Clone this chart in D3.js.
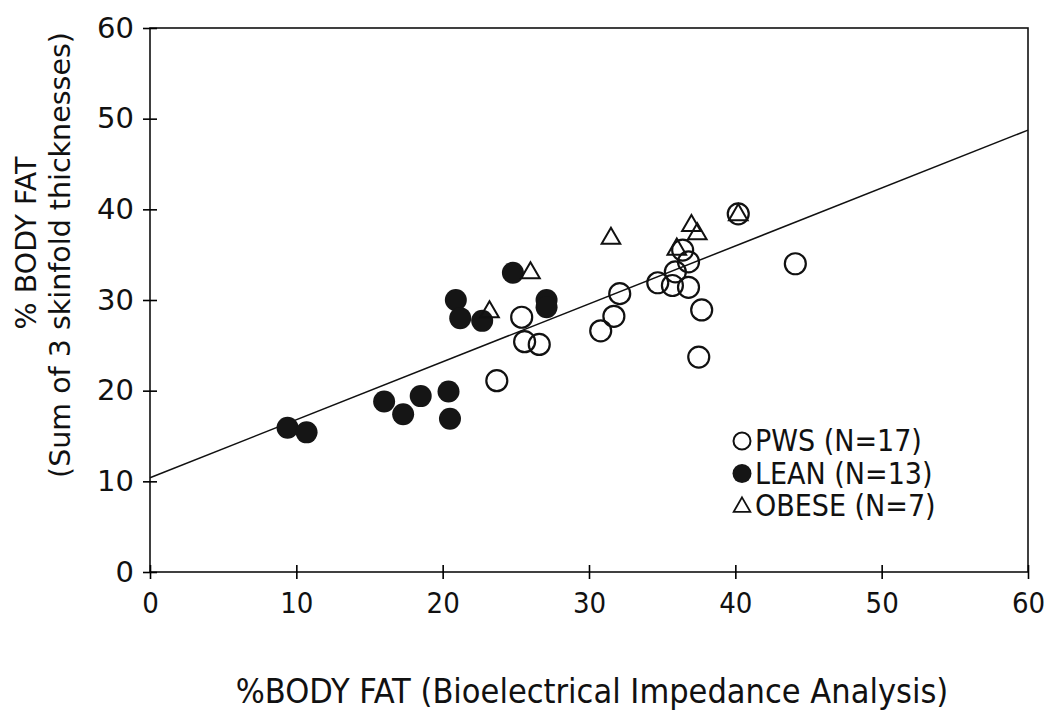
<!DOCTYPE html>
<html lang="en">
<head>
    <meta charset="UTF-8">
    <title>Body fat: skinfold vs BIA</title>
    <style type="text/css">
        body { margin: 0; background: white; }
        .tick text { fill: #111; }
    </style>
</head>
<body>

<svg width="1050" height="720"></svg>

<script src="https://d3js.org/d3.v7.min.js"></script>

<script>
    // %BODY FAT (BIA) vs %BODY FAT (skinfolds)
    var pwsX = [23.7, 25.4, 25.6, 26.6, 30.8, 31.7, 32.1, 34.7, 35.7, 35.9, 36.4, 36.8, 36.8, 37.7, 37.5, 40.2, 44.1];
    var pwsY = [21.1, 28.1, 25.4, 25.1, 26.6, 28.2, 30.7, 31.9, 31.6, 33.1, 35.5, 34.2, 31.4, 28.9, 23.7, 39.5, 34.0];

    var leanX = [9.4, 10.7, 16.0, 17.3, 18.5, 20.4, 20.5, 20.9, 21.2, 22.7, 24.8, 27.1, 27.1];
    var leanY = [15.9, 15.4, 18.8, 17.4, 19.4, 19.9, 16.9, 30.0, 28.0, 27.7, 33.0, 30.0, 29.2];

    var obeseX = [23.2, 26.0, 31.5, 36.0, 37.0, 37.4, 40.2];
    var obeseY = [28.8, 33.1, 36.9, 35.7, 38.3, 37.4, 39.5];

    var xTicks = [0, 10, 20, 30, 40, 50, 60];
    var yTicks = [0, 10, 20, 30, 40, 50, 60];

    // fitted line, intercept and slope
    var fitLine = [10.4, 0.639];

    var legendLabels = ["PWS (N=17)", "LEAN (N=13)", "OBESE (N=7)"];

    var narrow = "'Liberation Sans Narrow', 'DejaVu Sans Condensed', sans-serif";
    var wide = "'DejaVu Sans', Verdana, sans-serif";

    var svg = d3.select("svg"),
            margin = {top: 28, right: 22, bottom: 148, left: 150},
            width = svg.attr("width") - margin.left - margin.right,
            height = svg.attr("height") - margin.top - margin.bottom,
            g = svg.append("g").attr("transform", "translate(" + margin.left + "," + margin.top + ")");

    var x = d3.scaleLinear().domain([0, 60]).range([0, width]);
    var y = d3.scaleLinear().domain([0, 60]).range([height, 0]);

    // frame
    g.append("rect")
            .attr("x", 0).attr("y", 0)
            .attr("width", width).attr("height", height)
            .style("fill", "none")
            .style("stroke", "#111")
            .style("stroke-width", 1.6);

    // left axis, ticks cross the line
    var yAxis = g.append("g")
            .call(d3.axisLeft(y).tickValues(yTicks).tickSize(7).tickPadding(14));
    yAxis.select(".domain").remove();
    yAxis.selectAll(".tick line").attr("x2", 7).attr("x1", -7).style("stroke-width", 1.6);
    yAxis.selectAll(".tick text")
            .style("font-family", wide)
            .style("font-size", "29px")
            .attr("x", -16);

    var xAxis = g.append("g")
            .attr("transform", "translate(0," + height + ")")
            .call(d3.axisBottom(x).tickValues(xTicks).tickSize(7).tickPadding(14));
    xAxis.select(".domain").remove();
    xAxis.selectAll(".tick line").attr("y1", -7).attr("y2", 7).style("stroke-width", 1.6);
    xAxis.selectAll(".tick text")
            .style("font-family", narrow)
            .style("font-size", "29px")
            .attr("y", 20);

    // regression line
    g.append("line")
            .attr("x1", x(0)).attr("y1", y(fitLine[0]))
            .attr("x2", x(60)).attr("y2", y(fitLine[0] + fitLine[1] * 60))
            .style("stroke", "#111")
            .style("stroke-width", 1.5);

    var r = 10.5;
    var tri = d3.symbol().type(d3.symbolTriangle).size(150);

    g.selectAll(".pws")
            .data(d3.zip(pwsX, pwsY))
            .enter().append("circle")
            .attr("class", "pws")
            .attr("cx", function (d) { return x(d[0]); })
            .attr("cy", function (d) { return y(d[1]); })
            .attr("r", r)
            .style("fill", "none")
            .style("stroke", "#111")
            .style("stroke-width", 2.2);

    g.selectAll(".lean")
            .data(d3.zip(leanX, leanY))
            .enter().append("circle")
            .attr("class", "lean")
            .attr("cx", function (d) { return x(d[0]); })
            .attr("cy", function (d) { return y(d[1]); })
            .attr("r", r + 0.5)
            .style("fill", "#151515");

    g.selectAll(".obese")
            .data(d3.zip(obeseX, obeseY))
            .enter().append("path")
            .attr("class", "obese")
            .attr("d", tri)
            .attr("transform", function (d) {
                return "translate(" + x(d[0]) + "," + (y(d[1]) + 1) + ")";
            })
            .style("fill", "none")
            .style("stroke", "#111")
            .style("stroke-width", 2);

    // legend
    var legend = g.append("g")
            .attr("transform", "translate(592,413)");

    legend.selectAll("g")
            .data(legendLabels)
            .enter().append("g")
            .attr("transform", function (d, i) { return "translate(0," + i * 32.5 + ")"; })
            .each(function (d, i) {
                var row = d3.select(this);
                if (i === 0) {
                    row.append("circle").attr("cx", 0).attr("cy", 0).attr("r", 8.5)
                            .style("fill", "none").style("stroke", "#111").style("stroke-width", 2);
                } else if (i === 1) {
                    row.append("circle").attr("cx", 0).attr("cy", 0).attr("r", 9.5).style("fill", "#151515");
                } else {
                    row.append("path").attr("d", d3.symbol().type(d3.symbolTriangle).size(120))
                            .attr("transform", "translate(0,1)")
                            .style("fill", "none").style("stroke", "#111").style("stroke-width", 1.8);
                }
                row.append("text")
                        .attr("x", 13).attr("y", 10)
                        .style("font-family", narrow)
                        .style("font-size", "30px")
                        .style("fill", "#111")
                        .text(d);
            });

    // axis titles
    svg.append("text")
            .attr("x", 592).attr("y", 703)
            .attr("text-anchor", "middle")
            .style("font-family", narrow)
            .style("font-size", "34px")
            .style("fill", "#111")
            .text("%BODY FAT (Bioelectrical Impedance Analysis)");

    var yTitle = svg.append("text")
            .attr("transform", "translate(36,255) rotate(-90)")
            .attr("text-anchor", "middle")
            .style("font-family", wide)
            .style("font-size", "28.5px")
            .style("fill", "#111");
    yTitle.append("tspan").attr("x", 12).attr("y", 0).text("% BODY FAT");
    yTitle.append("tspan").attr("x", 0).attr("y", 34).text("(Sum of 3 skinfold thicknesses)");
</script>

</body>
</html>
